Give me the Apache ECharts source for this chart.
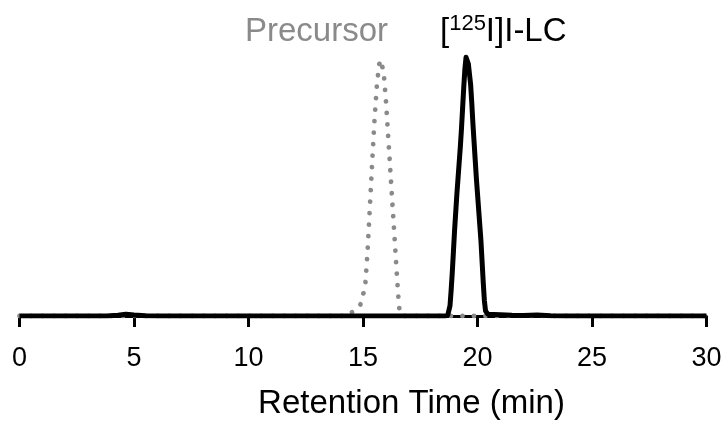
<!DOCTYPE html>
<html>
<head>
<meta charset="utf-8">
<script src="https://cdn.jsdelivr.net/npm/echarts@6/dist/echarts.min.js"></script>
<style>
html,body{margin:0;padding:0;background:#fff;}
#c{width:727px;height:425px;}
</style>
</head>
<body>
<div id="c"></div>
<script>
// X-axis ticks (minutes)
const xTicks = [0, 5, 10, 15, 20, 25, 30];
const xAxisName = 'Retention Time (min)';

// Precursor trace (grey dotted): retention time (min) and relative signal
const precursorTime = [0, 14.3, 14.45, 14.6, 14.7, 14.8, 14.9, 15.0, 15.1, 15.2, 15.3, 15.4, 15.5, 15.6, 15.7, 15.76, 15.82, 15.9, 16.0, 16.1, 16.2, 16.3, 16.4, 16.5, 16.55, 16.6, 16.7, 30];
const precursorSignal = [0, 0, 1, 2, 2.8, 3.5, 4.6, 8, 12, 25, 42, 59, 75, 88, 96.5, 98.5, 98, 94, 83, 69, 55, 41, 27, 13, 6.5, 1.5, 0, 0];

// [125I]I-LC trace (black solid)
const lcTime = [0, 3.8, 4.3, 4.65, 5.0, 5.5, 6.2, 18.6, 18.7, 18.75, 18.8, 18.85, 18.9, 18.95, 19.0, 19.05, 19.1, 19.15, 19.2, 19.25, 19.3, 19.35, 19.4, 19.45, 19.5, 19.55, 19.6, 19.65, 19.7, 19.75, 19.8, 19.85, 19.9, 19.95, 20.0, 20.05, 20.1, 20.15, 20.2, 20.25, 20.3, 20.35, 20.45, 21.0, 21.5, 22.0, 22.6, 23.2, 24.0, 30];
const lcSignal = [0, 0, 0.3, 0.7, 0.35, 0.1, 0, 0, 0.3, 1, 4, 10, 17, 25, 33, 40, 47, 53, 59, 65, 72, 80, 88, 95, 99.5, 100, 97, 93, 89, 82, 74, 67, 60, 53, 47, 41, 35, 29, 21, 13, 6, 2, 0.7, 0.5, 0.3, 0.2, 0.35, 0.1, 0, 0];

const labelPrecursor = 'Precursor';
const labelLC = ['[', '125', 'I]I-LC'];

const chart = echarts.init(document.getElementById('c'), null, {renderer: 'canvas'});
const FONT = '"Liberation Sans", Arial, sans-serif';

chart.setOption({
  animation: false,
  backgroundColor: '#ffffff',
  grid: {left: 19.5, right: 20.5, top: 56, bottom: 106, containLabel: false},
  xAxis: {
    type: 'value',
    min: xTicks[0],
    max: xTicks[xTicks.length - 1],
    interval: xTicks[1] - xTicks[0],
    name: xAxisName,
    nameLocation: 'middle',
    nameGap: 71,
    nameTextStyle: {fontFamily: FONT, fontSize: 33, color: '#000', padding: [0, 0, 0, 97]},
    axisLine: {show: true, onZero: false, lineStyle: {color: '#000', width: 3}},
    axisTick: {show: true, length: 11, lineStyle: {color: '#000', width: 3}},
    axisLabel: {fontFamily: FONT, fontSize: 27, color: '#000', margin: 29},
    splitLine: {show: false}
  },
  yAxis: {
    type: 'value', min: 0, max: 100, show: false,
    splitLine: {show: false}
  },
  series: [
    {
      name: 'Precursor', type: 'line', showSymbol: false, z: 2,
      data: precursorTime.map((t, i) => [t, precursorSignal[i]]),
      lineStyle: {color: '#8a8a8a', width: 4.8, type: [0.01, 11.5], cap: 'round', join: 'round'}
    },
    {
      name: '[125I]I-LC', type: 'line', showSymbol: false, z: 3,
      data: lcTime.map((t, i) => [t, lcSignal[i]]),
      lineStyle: {color: '#000', width: 5, join: 'round'}
    }
  ],
  graphic: [
    {
      type: 'text', left: 245, top: 15,
      style: {text: labelPrecursor, fontFamily: FONT, fontSize: 33, fill: '#8a8a8a'}
    },
    {
      type: 'text', left: 440, top: 13,
      style: {
        text: '{a|' + labelLC[0] + '}{s|' + labelLC[1] + '}{a|' + labelLC[2] + '}',
        rich: {
          a: {fontFamily: FONT, fontSize: 33, fill: '#000', lineHeight: 38},
          s: {fontFamily: FONT, fontSize: 22, fill: '#000', verticalAlign: 'top', lineHeight: 20}
        }
      }
    }
  ]
});
</script>
</body>
</html>
